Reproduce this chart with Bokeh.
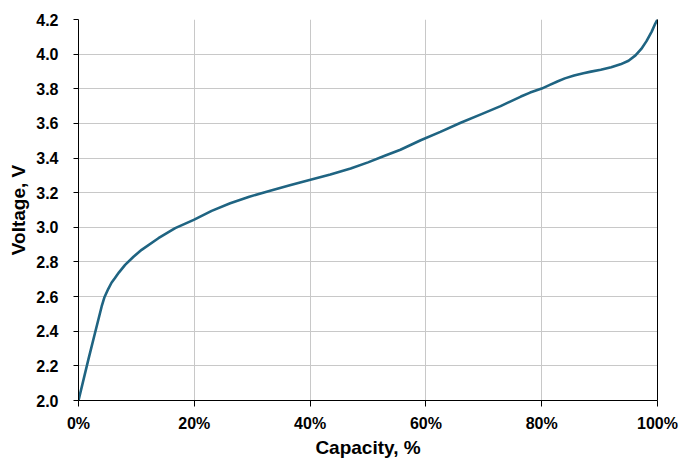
from bokeh.plotting import figure
from bokeh.models import FixedTicker, NumeralTickFormatter, LinearAxis, Range1d
from bokeh.embed import file_html
from bokeh.resources import INLINE

# Data (capacity as fraction, voltage in V)
capacity = [0.0, 0.017, 0.0285, 0.040, 0.045, 0.0515, 0.057, 0.063, 0.070, 0.0805,
            0.095, 0.109, 0.138, 0.167, 0.199, 0.230, 0.262, 0.295, 0.331, 0.365,
            0.399, 0.435, 0.470, 0.500, 0.530, 0.556, 0.591, 0.625, 0.660, 0.695,
            0.729, 0.764, 0.780, 0.800, 0.815, 0.827, 0.840, 0.856, 0.872, 0.885,
            0.902, 0.920, 0.936, 0.950, 0.962, 0.972, 0.981, 0.990, 0.996, 1.0]
voltage = [2.000, 2.236, 2.390, 2.543, 2.598, 2.645, 2.680, 2.707, 2.740, 2.783,
           2.830, 2.870, 2.937, 2.995, 3.043, 3.095, 3.139, 3.177, 3.211, 3.243,
           3.273, 3.305, 3.340, 3.375, 3.415, 3.448, 3.503, 3.551, 3.604, 3.652,
           3.700, 3.755, 3.778, 3.801, 3.824, 3.842, 3.860, 3.877, 3.890, 3.899,
           3.910, 3.924, 3.941, 3.962, 3.993, 4.030, 4.075, 4.130, 4.175, 4.200]

x_ticks = [0.0, 0.2, 0.4, 0.6, 0.8, 1.0]
y_ticks = [2.0, 2.2, 2.4, 2.6, 2.8, 3.0, 3.2, 3.4, 3.6, 3.8, 4.0, 4.2]

FONT = "Liberation Sans"

p = figure(width=680, height=460, output_backend="svg", toolbar_location=None,
           x_range=Range1d(0, 1), y_range=Range1d(2.0, 4.2),
           min_border_left=78, min_border_right=23, min_border_top=19, min_border_bottom=59)
p.outline_line_color = None
p.background_fill_color = "white"
p.border_fill_color = "white"

p.line(capacity, voltage, line_color="#1f6482", line_width=2.6, line_join="round", line_cap="round")

# grids
p.xgrid.ticker = FixedTicker(ticks=x_ticks)
p.ygrid.ticker = FixedTicker(ticks=y_ticks)
for g in (p.xgrid, p.ygrid):
    g.grid_line_color = "#c8c8c8"
    g.grid_line_width = 1

# x axis
xa = p.xaxis[0]
xa.ticker = FixedTicker(ticks=x_ticks)
xa.formatter = NumeralTickFormatter(format="0%")
xa.axis_label = "Capacity, %"
xa.major_tick_out = 6
xa.major_tick_in = 0
xa.minor_tick_out = 0
xa.minor_tick_in = 0
xa.major_label_standoff = 8
xa.axis_label_standoff = 2

# y axis
ya = p.yaxis[0]
ya.ticker = FixedTicker(ticks=y_ticks)
ya.formatter = NumeralTickFormatter(format="0.0")
ya.axis_label = "Voltage, V"
ya.major_tick_out = 5
ya.major_tick_in = 0
ya.minor_tick_out = 0
ya.minor_tick_in = 0
ya.major_label_standoff = 15
ya.axis_label_standoff = 4

for ax in (xa, ya):
    ax.axis_line_color = "black"
    ax.axis_line_width = 1
    ax.major_tick_line_color = "black"
    ax.major_label_text_font = FONT
    ax.major_label_text_font_style = "bold"
    ax.major_label_text_font_size = "16px"
    ax.major_label_text_color = "black"
    ax.axis_label_text_font = FONT
    ax.axis_label_text_font_style = "bold"
    ax.axis_label_text_font_size = "19px"
    ax.axis_label_text_color = "black"

# right border line (black) as an axis without ticks
ra = LinearAxis(ticker=FixedTicker(ticks=[]), axis_line_color="black", axis_line_width=1,
                major_tick_out=0, major_tick_in=0, minor_tick_out=0, minor_tick_in=0,
                major_label_text_font_size="0px")
p.add_layout(ra, "right")

open("out.html", "w").write(file_html(p, INLINE))
